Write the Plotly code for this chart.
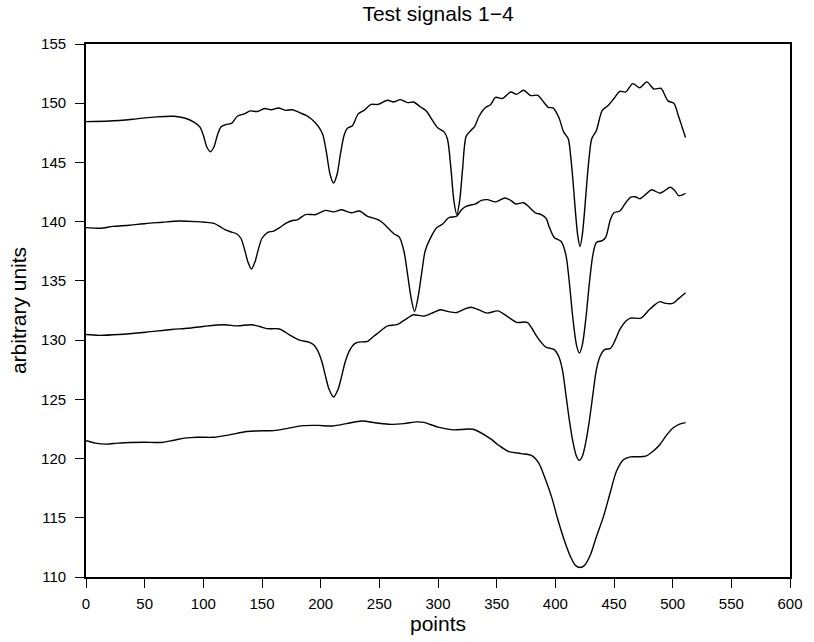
import plotly.graph_objects as go

# ---- data (knots along each signal) ----
s1_x = [0, 20, 40, 60, 75, 84, 92, 97, 100, 103, 106, 109, 112, 115, 119, 124, 129, 135, 140, 146, 152, 158, 164, 170, 176, 182, 188, 194, 199, 202, 205, 208, 211, 214, 217, 220, 223, 227, 232, 237, 243, 249, 257, 262, 268, 274, 279, 285, 290, 295, 300, 305, 308, 311, 313.5, 316, 318.5, 321, 324, 328, 331, 335, 340, 345, 349, 355, 362, 367, 373, 379, 385, 390, 394, 398, 403, 407, 411, 413, 415, 417, 419, 421, 423, 425, 427, 429, 431, 435, 440, 445, 450, 455, 460, 466, 472, 478, 484, 490, 496, 501, 505, 508, 511]
s1_y = [148.45, 148.5, 148.65, 148.85, 148.9, 148.75, 148.4, 148.0, 147.3, 146.3, 145.9, 146.3, 147.3, 148.0, 148.2, 148.3, 148.9, 149.1, 149.35, 149.3, 149.55, 149.45, 149.6, 149.4, 149.45, 149.2, 148.95, 148.5, 147.9, 147.3, 145.8, 144.0, 143.25, 144.0, 145.8, 147.3, 147.9, 148.1, 149.1, 149.4, 149.9, 149.9, 150.25, 150.1, 150.3, 150.05, 150.1, 149.7, 149.35, 148.6, 147.9, 147.6, 147.0, 144.5, 141.8, 140.6, 141.8, 144.5, 147.2, 147.7, 148.0, 148.9, 149.6, 149.9, 150.5, 150.4, 150.95, 150.75, 151.1, 150.65, 150.67, 150.1, 149.65, 149.6, 148.8, 147.6, 147.0, 145.6, 143.5, 141.0, 138.9, 137.9, 138.9, 141.0, 143.5, 145.6, 147.0, 147.7, 149.4, 149.8, 150.4, 151.0, 150.95, 151.65, 151.3, 151.8, 151.2, 151.25, 150.2, 150.0, 148.9, 148.0, 147.1]

s2_x = [0, 12, 23, 37, 51, 65, 79, 94, 101, 109, 114, 118, 123, 128, 132, 135, 138, 141, 144, 147, 150, 155, 160, 165, 171, 176, 180, 187, 192, 196, 204, 211, 218, 226, 233, 240, 245, 250, 254, 259, 263, 267, 271, 274, 277, 280, 283, 286, 289, 293, 299, 304, 309, 316, 320, 324, 332, 337, 342, 349, 357, 362, 366, 373, 378, 383, 388, 392, 395, 399, 405, 409, 412, 415, 418, 420.5, 423, 426, 429, 432, 435, 440, 443, 447, 450, 455, 460, 464, 468, 472, 477, 482, 489, 493, 498, 502, 505, 508, 511]
s2_y = [139.5, 139.45, 139.6, 139.7, 139.85, 139.95, 140.05, 140.0, 139.95, 139.85, 139.6, 139.35, 139.15, 139.0, 138.6, 137.7, 136.6, 136.0, 136.6, 137.7, 138.6, 139.1, 139.2, 139.5, 139.9, 140.1, 140.15, 140.6, 140.6, 140.6, 140.95, 140.83, 141.0, 140.75, 140.9, 140.45, 140.3, 140.1, 139.8, 139.3, 138.94, 138.7, 137.5, 135.6, 133.6, 132.4, 133.6, 135.6, 137.5, 138.5, 139.5, 139.8, 140.33, 140.47, 141.0, 141.3, 141.5, 141.8, 141.86, 141.67, 142.0, 141.8, 141.5, 141.6, 141.2, 140.75, 140.6, 140.3, 139.5, 138.67, 138.33, 137.2, 134.8, 131.8, 129.6, 128.9, 129.6, 131.8, 134.8, 137.2, 138.25, 138.4, 138.7, 140.2, 140.75, 140.9, 141.6, 142.06, 142.1, 141.94, 142.3, 142.7, 142.4, 142.6, 142.9, 142.6, 142.2, 142.25, 142.4]

s3_x = [0, 11, 28, 51, 73, 87, 101, 118, 129, 141, 148, 154, 165, 173, 182, 190, 194, 197, 201, 204, 207, 211, 215, 218, 221, 225, 229, 232, 240, 245, 249, 257, 265, 270, 274, 279, 288, 296, 302, 309, 316, 322, 328, 335, 342, 351, 359, 367, 376, 380, 384, 388, 392, 399, 403, 406, 409, 412, 415, 418, 420.5, 423, 426, 429, 432, 435, 438, 442, 447, 451, 455, 460, 464, 473, 480, 485, 489, 494, 500, 505, 511]
s3_y = [130.47, 130.4, 130.47, 130.67, 130.9, 131.0, 131.17, 131.3, 131.2, 131.3, 131.15, 130.97, 130.94, 130.47, 130.0, 129.83, 129.6, 129.2, 128.2, 127.0, 125.9, 125.2, 125.9, 127.0, 128.2, 129.2, 129.7, 129.83, 129.9, 130.3, 130.6, 131.2, 131.3, 131.6, 131.86, 132.14, 132.03, 132.33, 132.56, 132.4, 132.33, 132.6, 132.78, 132.55, 132.28, 132.47, 132.0, 131.5, 131.5, 131.0, 130.33, 129.8, 129.4, 129.2, 128.6, 127.5, 125.4, 123.2, 121.4, 120.2, 119.85, 120.2, 121.4, 123.2, 125.4, 127.5, 128.6, 129.2, 129.3, 130.0, 130.9, 131.6, 131.86, 131.86, 132.56, 133.0, 133.25, 133.1, 133.1, 133.5, 134.0]

s4_x = [0, 8, 17, 27, 37, 50, 65, 75, 84, 95, 109, 122, 137, 150, 160, 172, 185, 198, 210, 222, 235, 248, 260, 271, 282, 288, 300, 313, 330, 344, 352, 360, 371, 380, 386, 391, 397, 402, 408, 413, 417, 421, 425, 430, 435, 441, 447, 452, 458, 464, 471, 477, 483, 489, 495, 500, 506, 511]
s4_y = [121.5, 121.3, 121.22, 121.3, 121.36, 121.38, 121.36, 121.55, 121.72, 121.8, 121.8, 122.0, 122.28, 122.35, 122.36, 122.55, 122.78, 122.8, 122.75, 122.95, 123.17, 123.0, 122.89, 122.95, 123.1, 123.05, 122.65, 122.42, 122.47, 121.72, 121.1, 120.6, 120.42, 120.25, 119.6, 118.4, 116.7, 114.9, 113.0, 111.7, 111.0, 110.8, 111.0, 111.9, 113.4, 115.1, 117.2, 118.9, 119.9, 120.14, 120.15, 120.2, 120.6, 121.17, 122.0, 122.56, 122.9, 123.03]

x_ticks = [0, 50, 100, 150, 200, 250, 300, 350, 400, 450, 500, 550, 600]
y_ticks = [110, 115, 120, 125, 130, 135, 140, 145, 150, 155]

FONT = "Liberation Sans, Arial, Helvetica, sans-serif"

fig = go.Figure()
for xs, ys in [(s1_x, s1_y), (s2_x, s2_y), (s3_x, s3_y), (s4_x, s4_y)]:
    fig.add_trace(go.Scatter(
        x=xs, y=ys, mode="lines",
        line=dict(color="black", width=1.4, shape="spline", smoothing=0.8),
        showlegend=False, hoverinfo="skip"))

axis_common = dict(
    showline=True, linecolor="black", linewidth=1.8, mirror=True,
    ticks="outside", ticklen=9, tickwidth=1.4, tickcolor="black",
    showgrid=False, zeroline=False,
    tickfont=dict(family=FONT, size=15, color="black"),
)

fig.update_layout(
    width=814, height=642,
    margin=dict(l=86, r=11, t=44, b=58),
    paper_bgcolor="white", plot_bgcolor="white",
    title=dict(text="Test signals 1\u22124", x=0.5, xanchor="center", xref="paper",
               y=1 - 14 / 642, yanchor="middle", yref="container",
               font=dict(family=FONT, size=21, color="black")),
    xaxis=dict(range=[0, 600], tickvals=x_ticks, ticklabelstandoff=3,
               title=dict(text="points", standoff=4,
                          font=dict(family=FONT, size=21, color="black")),
               **axis_common),
    yaxis=dict(range=[110, 155], tickvals=y_ticks, ticklabelstandoff=6,
               title=dict(text="arbitrary units", standoff=9,
                          font=dict(family=FONT, size=21, color="black")),
               **axis_common),
)

fig.write_html("out.html")
